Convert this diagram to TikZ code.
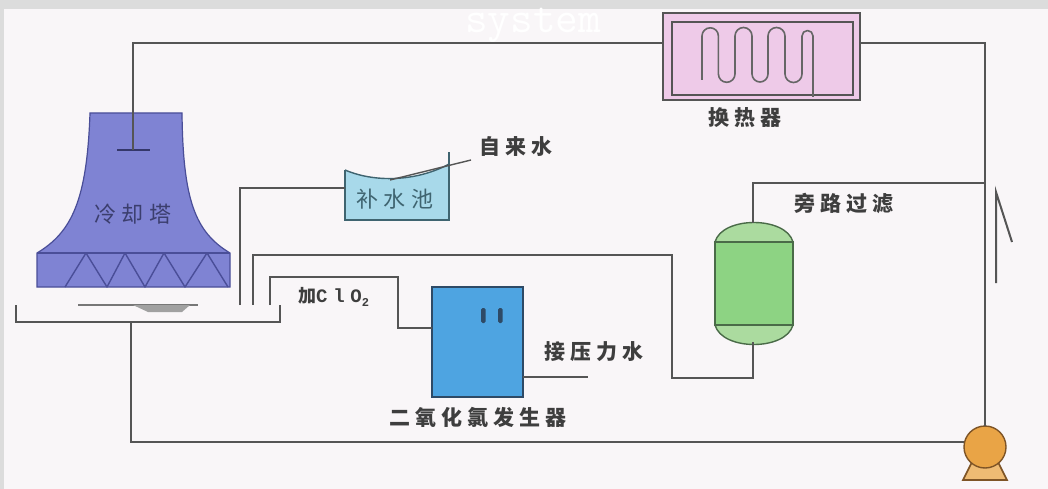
\documentclass[tikz,border=0pt]{standalone}
\usepackage{fontspec}
\newfontfamily\cjk[LetterSpace=24]{Noto Sans CJK SC}
\newfontfamily\monof{Liberation Mono}
\newfontfamily\monowide[LetterSpace=30]{Liberation Mono}
\usetikzlibrary{calc}
\definecolor{bggrey}{HTML}{DCDCDC}
\definecolor{paper}{HTML}{F9F6F8}
\definecolor{pipec}{HTML}{555555}
\definecolor{labelc}{HTML}{3E3E3E}
\definecolor{towerfill}{HTML}{7F83D3}
\definecolor{toweredge}{HTML}{4A4E98}
\definecolor{hxfill}{HTML}{EECAE8}
\definecolor{tankfill}{HTML}{A8D9EA}
\definecolor{tankedge}{HTML}{3F6470}
\definecolor{genfill}{HTML}{4EA4E1}
\definecolor{genedge}{HTML}{2E4A66}
\definecolor{filterbody}{HTML}{8DD383}
\definecolor{filterdome}{HTML}{ABDB9F}
\definecolor{filteredge}{HTML}{4A6B48}
\definecolor{pumpfill}{HTML}{E9A446}
\definecolor{pumpedge}{HTML}{7E5426}
\begin{document}
\begin{tikzpicture}[x=1pt,y=-1pt,
  pipe/.style={draw=pipec,line width=2.5pt,line join=miter},
  lbl/.style={text=labelc,font=\cjk\bfseries\fontsize{21}{21}\selectfont,inner sep=0pt},
  unit/.style={inner sep=0pt,outer sep=0pt}]
\useasboundingbox (0,0) rectangle (1048,489);
\fill[bggrey] (0,0) rectangle (1048,489);
\fill[paper] (4,9) rectangle (1048,489);

% caption in the top band
\node[text=white,font=\ttfamily\fontsize{44}{44}\selectfont,anchor=base,inner sep=0pt] (title) at (533,33) {system};

% ---------------- cooling tower ----------------
\fill[towerfill,draw=toweredge,line width=1.2pt]
  (90,113) -- (182,113) .. controls (183,200) and (195,232) .. (230,253)
  -- (230,287) -- (37,287) -- (37,253)
  .. controls (72,232) and (87,200) .. (90,113) -- cycle;
\draw[toweredge,line width=1.4pt] (37,253) -- (230,253);
\draw[toweredge,line width=1.4pt,line join=round]
  (65,287) -- (86,253) -- (107,287) -- (125,253) -- (145,287)
  -- (164,253) -- (185,287) -- (207,253) -- (228,287);
\node[lbl,text=toweredge!50!black,opacity=0.75,font=\cjk\fontsize{22}{22}\selectfont] (towerlbl) at (133,214) {冷却塔};
% distribution bar inside the tower
\coordinate (spray) at (133,150);
\draw[toweredge!70!black,line width=2pt] (117,150) -- (150,150);

% basin under the tower
\draw[pipec!80,line width=2.4pt] (78,305) -- (198,305);
\fill[pipec!55] (133,305) -- (190,305) -- (182,312) -- (148,312) -- cycle;
\coordinate (basinL) at (16,305);
\coordinate (basinR) at (280,305);
\coordinate (basinOut) at (131,322);
\draw[pipe] (basinL) -- (16,322) -- (280,322) -- (basinR);

% ---------------- heat exchanger ----------------
\node[unit,draw=pipec,line width=1.6pt,fill=hxfill,minimum width=197pt,minimum height=87pt] (hx) at (761.5,56.5) {};
\draw[pipec,line width=1.4pt] ($(hx.north west)+(9,9)$) rectangle ($(hx.south east)+(-7,-5)$);
\draw[pipec!90,line width=1.6pt,line join=round]
  (702,80) -- (702,36) arc[start angle=180,end angle=360,radius=8.2]
  -- (718.4,74) arc[start angle=180,end angle=0,radius=8.3]
  -- (735,36) arc[start angle=180,end angle=360,radius=8.5]
  -- (752,74) arc[start angle=180,end angle=0,radius=8]
  -- (768,36) arc[start angle=180,end angle=360,radius=8.5]
  -- (785,74) arc[start angle=180,end angle=0,radius=8.5]
  -- (802,36) arc[start angle=180,end angle=360,radius=5.5]
  -- (813,97);
\node[lbl] (hxlbl) at (745,118) {换热器};
\coordinate (hxIn) at (663,43);
\coordinate (hxOut) at (860,43);

% ---------------- make-up water tank ----------------
\coordinate (tankIn) at (345,188);
\fill[tankfill] (345,170) .. controls (378,184) and (420,180) .. (449,164)
  -- (449,220) -- (345,220) -- cycle;
\draw[tankedge,line width=1.6pt] (345,170) -- (345,220) -- (449,220) -- (449,152);
\draw[tankedge,line width=1.4pt] (345,170) .. controls (378,184) and (420,180) .. (449,164);
\coordinate (tapEnd) at (471,160);
\draw[pipec,line width=1.4pt] (390,180) -- (tapEnd);
\node[lbl,text=tankedge,font=\cjk\fontsize{22}{22}\selectfont] (tanklbl) at (395,199) {补水池};
\node[lbl] (taplbl) at (516,147) {自来水};

% ---------------- chlorine dioxide generator ----------------
\node[unit,draw=genedge,line width=1.6pt,fill=genfill,minimum width=91pt,minimum height=110pt] (gen) at (477.5,342) {};
\fill[genedge,rounded corners=1.5pt] (481,308) rectangle (485.5,323);
\fill[genedge,rounded corners=1.5pt] (498,308) rectangle (502.5,323);
\coordinate (genIn) at (432,328);
\coordinate (genW) at (523,377);
\coordinate (pwEnd) at (588,377);
\node[lbl] (genlbl) at (478,417) {二氧化氯发生器};
\node[lbl] (pwlbl) at (594,352) {接压力水};
\node[text=labelc,inner sep=0pt,anchor=base west] (clolbl) at (298,302)
  {{\cjk\bfseries\fontsize{18}{18}\selectfont 加}{\monowide\bfseries\fontsize{19}{19}\selectfont ClO}\raisebox{-4pt}{\monof\bfseries\fontsize{12}{12}\selectfont 2}};

% ---------------- side-stream filter ----------------
\fill[filterdome,draw=filteredge,line width=1.4pt]
  (715,242) .. controls (722,216) and (786,216) .. (793,242) -- cycle;
\fill[filterdome,draw=filteredge,line width=1.4pt]
  (715,325) .. controls (722,351) and (786,351) .. (793,325) -- cycle;
\fill[filterbody,draw=filteredge,line width=1.6pt] (715,242) rectangle (793,325);
\coordinate (filtTop) at (753,223);
\coordinate (filtBot) at (753,342);
\node[lbl] (filtlbl) at (844,203) {旁路过滤};

% ---------------- circulation pump ----------------
\fill[pumpfill!75!white,draw=pumpedge,line width=1.6pt]
  (972,462) -- (998,462) -- (1007,480) -- (963,480) -- cycle;
\node[unit,circle,draw=pumpedge,line width=1.4pt,fill=pumpfill,minimum size=42pt] (pump) at (985,447) {};

% ---------------- piping ----------------
\draw[pipe] (spray) -- (133,43) -- (hxIn);
\draw[pipe] (hxOut) -- (985,43) -- (pump.north);
\draw[pipe] (985,183) -- (753,183) -- (filtTop);
\draw[pipe] (filtBot) -- (753,378) -- (672,378) -- (672,255) -- (253,255) -- (253,305);
\draw[pipe] (270,305) -- (270,277) -- (398,277) -- (398,328) -- (genIn);
\draw[pipe] (240,305) -- (240,188) -- (tankIn);
\draw[pipe] (basinOut) -- (131,442) -- (131,442 -| pump.west);
\draw[pipe,line width=2pt] (genW) -- (pwEnd);

% flow direction mark beside the riser
\draw[pipe,line width=2pt,line join=miter] (1012,242) -- (996,192) -- (996,283);
\end{tikzpicture}
\end{document}
